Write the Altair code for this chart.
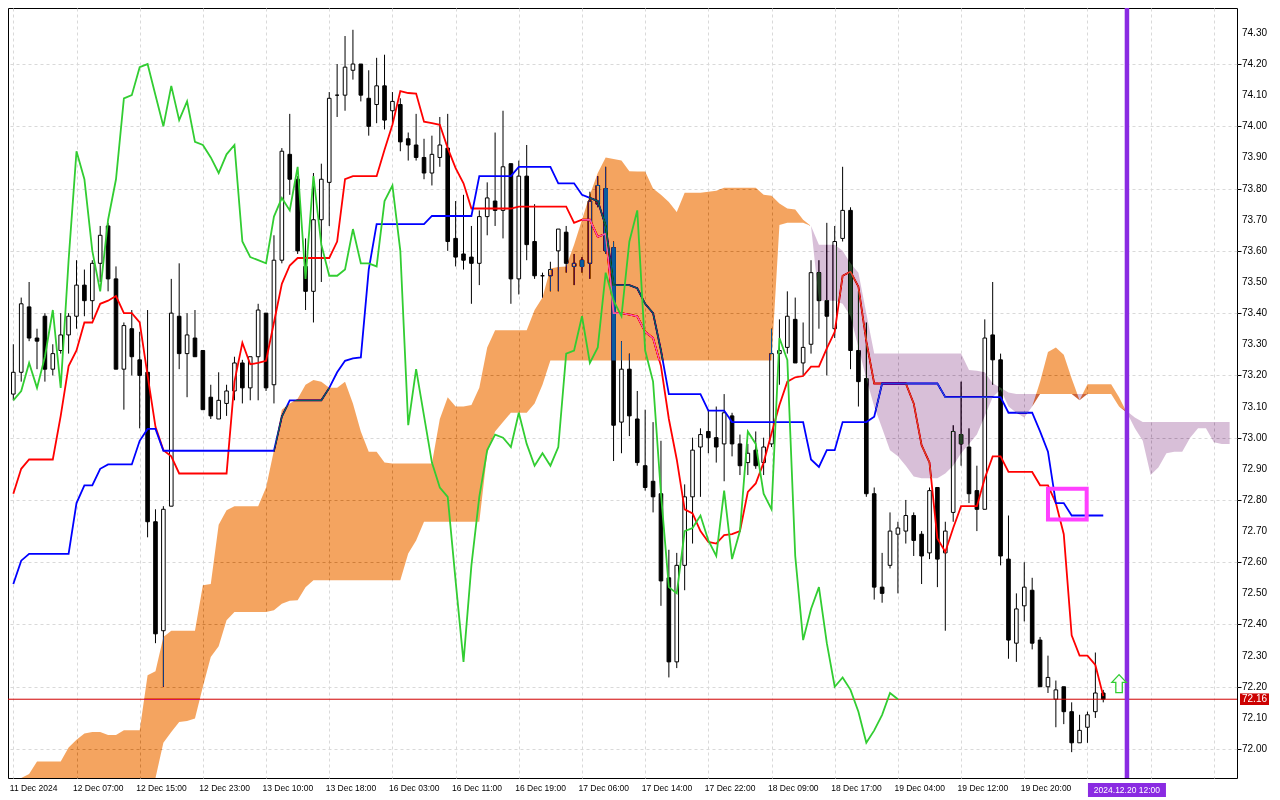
import json
import altair as alt
import pandas as pd

# ---------------- data ----------------
time_labels = ["11 Dec 2024", "12 Dec 07:00", "12 Dec 15:00", "12 Dec 23:00", "13 Dec 10:00",
               "13 Dec 18:00", "16 Dec 03:00", "16 Dec 11:00", "16 Dec 19:00", "17 Dec 06:00",
               "17 Dec 14:00", "17 Dec 22:00", "18 Dec 09:00", "18 Dec 17:00", "19 Dec 04:00",
               "19 Dec 12:00", "19 Dec 20:00"]
price_ticks = [72.0, 72.1, 72.2, 72.3, 72.4, 72.5, 72.6, 72.7, 72.8, 72.9, 73.0, 73.1,
               73.2, 73.3, 73.4, 73.5, 73.6, 73.7, 73.8, 73.9, 74.0, 74.1, 74.2, 74.3]

opens = [73.14, 73.21, 73.42, 73.32, 73.39, 73.22, 73.28, 73.33, 73.39, 73.49,
         73.44, 73.56, 73.68, 73.51, 73.22, 73.35, 73.25, 73.21, 72.73, 72.38,
         72.78, 73.39, 73.27, 73.32, 73.28, 73.13, 73.06, 73.11, 73.15, 73.24,
         73.16, 73.26, 73.40, 73.17, 73.57, 73.91, 73.83, 73.55, 73.47, 73.70,
         73.82, 74.10, 74.10, 74.18, 74.20, 74.09, 74.07, 74.13, 74.05, 74.07,
         73.96, 73.94, 73.90, 73.85, 73.90, 73.93, 73.64, 73.59, 73.58, 73.56,
         73.71, 73.76, 73.73, 73.88, 73.51, 73.84, 73.63, 73.52, 73.52, 73.60,
         73.66, 73.55, 73.57, 73.56, 73.75, 73.80, 73.61, 73.05, 73.22, 73.06,
         72.91, 72.86, 72.82, 72.55, 72.28, 72.59, 72.81, 72.97, 73.02, 73.00,
         72.98, 73.07, 72.98, 72.92, 72.96, 72.92, 72.98, 73.27, 73.29, 73.38,
         73.24, 73.30, 73.53, 73.44, 73.35, 73.64, 73.73, 73.28, 73.19, 72.82,
         72.52, 72.59, 72.69, 72.70, 72.75, 72.69, 72.63, 72.84, 72.63, 72.76,
         73.01, 72.97, 72.83, 72.77, 73.33, 73.25, 72.61, 72.34, 72.46, 72.51,
         72.35, 72.20, 72.16, 72.20, 72.12, 72.02, 72.07, 72.12, 72.18]
highs = [73.30, 73.45, 73.50, 73.35, 73.40, 73.30, 73.40, 73.40, 73.57, 73.54,
         73.57, 73.68, 73.69, 73.55, 73.37, 73.41, 73.34, 73.41, 72.77, 72.78,
         73.51, 73.56, 73.40, 73.41, 73.28, 73.17, 73.21, 73.17, 73.26, 73.25,
         73.26, 73.43, 73.40, 73.65, 73.93, 74.04, 73.84, 73.64, 73.85, 73.88,
         74.11, 74.20, 74.29, 74.31, 74.20, 74.18, 74.22, 74.23, 74.11, 74.09,
         73.98, 74.04, 73.96, 73.97, 74.03, 74.04, 73.76, 73.78, 73.68, 73.73,
         73.82, 73.98, 74.05, 73.88, 73.89, 73.94, 73.75, 73.53, 73.565, 73.67,
         73.68, 73.59, 73.58, 73.79, 73.84, 73.87, 73.63, 73.31, 73.27, 73.15,
         73.09, 73.05, 72.99, 72.64, 72.63, 72.85, 73.00, 73.03, 73.09, 73.10,
         73.14, 73.08, 73.01, 72.98, 73.02, 73.00, 73.35, 73.38, 73.47, 73.45,
         73.37, 73.57, 73.57, 73.69, 73.68, 73.87, 73.74, 73.47, 73.37, 72.84,
         72.63, 72.76, 72.73, 72.80, 72.76, 72.70, 72.84, 72.84, 72.73, 73.04,
         73.18, 73.03, 72.91, 73.38, 73.50, 73.27, 72.75, 72.50, 72.60, 72.55,
         72.36, 72.30, 72.22, 72.20, 72.15, 72.11, 72.12, 72.31, 72.19]
lows = [73.12, 73.18, 73.31, 73.22, 73.18, 73.20, 73.27, 73.27, 73.35, 73.39,
        73.38, 73.50, 73.47, 73.22, 73.09, 73.20, 73.03, 72.68, 72.34, 72.20,
        72.78, 73.22, 73.13, 73.26, 73.09, 73.06, 73.06, 73.07, 73.12, 73.11,
        73.12, 73.12, 73.15, 73.11, 73.56, 73.78, 73.59, 73.41, 73.37, 73.50,
        73.68, 74.03, 74.05, 74.15, 74.08, 73.97, 74.01, 73.99, 74.01, 73.92,
        73.89, 73.89, 73.83, 73.81, 73.87, 73.60, 73.55, 73.54, 73.43, 73.49,
        73.65, 73.68, 73.64, 73.43, 73.46, 73.57, 73.51, 73.45, 73.47, 73.47,
        73.53, 73.49, 73.53, 73.51, 73.74, 73.59, 72.925, 72.95, 73.005, 72.91,
        72.83, 72.76, 72.46, 72.23, 72.26, 72.51, 72.66, 72.81, 72.95, 72.92,
        72.86, 72.94, 72.88, 72.88, 72.90, 72.88, 72.97, 73.17, 73.27, 73.24,
        73.20, 73.27, 73.35, 73.20, 73.32, 73.63, 73.22, 73.10, 72.81, 72.48,
        72.47, 72.58, 72.50, 72.66, 72.62, 72.53, 72.61, 72.52, 72.38, 72.73,
        72.91, 72.79, 72.70, 72.77, 73.17, 72.59, 72.29, 72.28, 72.41, 72.32,
        72.20, 72.18, 72.07, 72.08, 71.99, 72.02, 72.02, 72.10, 72.15]
closes = [73.21, 73.43, 73.32, 73.31, 73.22, 73.27, 73.33, 73.39, 73.49, 73.44,
          73.56, 73.65, 73.51, 73.22, 73.36, 73.26, 73.20, 72.73, 72.37, 72.77,
          73.40, 73.27, 73.33, 73.26, 73.09, 73.07, 73.12, 73.15, 73.24, 73.16,
          73.26, 73.41, 73.16, 73.57, 73.92, 73.83, 73.60, 73.47, 73.70, 73.83,
          74.09, 74.10, 74.19, 74.20, 74.10, 74.00, 74.13, 74.02, 74.08, 73.95,
          73.94, 73.90, 73.85, 73.91, 73.94, 73.63, 73.58, 73.57, 73.56, 73.71,
          73.77, 73.73, 73.87, 73.51, 73.84, 73.62, 73.52, 73.52, 73.54, 73.67,
          73.56, 73.56, 73.55, 73.76, 73.81, 73.60, 73.04, 73.22, 73.07, 72.92,
          72.84, 72.81, 72.54, 72.28, 72.59, 72.81, 72.96, 73.01, 73.00, 72.97,
          73.08, 72.98, 72.91, 72.95, 72.91, 72.97, 73.27, 73.28, 73.39, 73.24,
          73.29, 73.53, 73.44, 73.39, 73.63, 73.73, 73.28, 73.18, 72.82, 72.52,
          72.50, 72.70, 72.71, 72.75, 72.67, 72.62, 72.83, 72.61, 72.70, 73.02,
          72.98, 72.82, 72.77, 73.32, 73.25, 72.62, 72.35, 72.45, 72.52, 72.34,
          72.20, 72.23, 72.19, 72.12, 72.02, 72.06, 72.11, 72.18, 72.16]

tenkan = [72.82, 72.90, 72.93, 72.93, 72.93, 72.93, 73.07, 73.23, 73.28, 73.37,
          73.37, 73.43, 73.44, 73.455, 73.40, 73.40, 73.37, 73.20, 73.035, 72.96,
          72.94, 72.885, 72.885, 72.885, 72.885, 72.885, 72.885, 72.885, 73.18, 73.305,
          73.236, 73.24, 73.247, 73.37, 73.494, 73.553, 73.577, 73.577, 73.577, 73.577,
          73.577, 73.63, 73.83, 73.84, 73.84, 73.84, 73.84, 73.925, 74.005, 74.113,
          74.107, 74.105, 74.015, 74.01, 74.005, 73.93, 73.866, 73.817, 73.736, 73.736,
          73.736, 73.736, 73.736, 73.736, 73.742, 73.742, 73.742, 73.742, 73.742, 73.742,
          73.742, 73.69, 73.70, 73.70, 73.645, 73.655, 73.40, 73.40, 73.395, 73.39,
          73.34, 73.32, 73.23, 73.06, 72.93, 72.77, 72.757, 72.70, 72.665, 72.66,
          72.687, 72.69, 72.70, 72.826, 72.853, 72.92, 73.014, 73.105, 73.18, 73.194,
          73.198, 73.228, 73.228, 73.287, 73.34, 73.52, 73.533, 73.485, 73.31, 73.174,
          73.174, 73.174, 73.174, 73.174, 73.11, 72.976, 72.92, 72.676, 72.633, 72.71,
          72.78, 72.78, 72.78, 72.87, 72.94, 72.94, 72.89, 72.89, 72.89, 72.89,
          72.847, 72.847, 72.79, 72.69, 72.365, 72.30, 72.30, 72.27, 72.17]
kijun = [72.53, 72.605, 72.627, 72.627, 72.627, 72.627, 72.627, 72.627, 72.79, 72.847,
         72.847, 72.90, 72.914, 72.914, 72.914, 72.914, 72.99, 73.028, 73.028, 72.958,
         72.958, 72.958, 72.958, 72.958, 72.958, 72.958, 72.958, 72.958, 72.958, 72.958,
         72.958, 72.958, 72.958, 72.958, 73.068, 73.12, 73.12, 73.12, 73.12, 73.12,
         73.16, 73.21, 73.247, 73.255, 73.258, 73.54, 73.686, 73.686, 73.686, 73.686,
         73.686, 73.686, 73.686, 73.712, 73.712, 73.712, 73.712, 73.712, 73.712, 73.84,
         73.84, 73.84, 73.84, 73.84, 73.87, 73.87, 73.87, 73.87, 73.87, 73.817,
         73.817, 73.817, 73.78, 73.77, 73.76, 73.68, 73.49, 73.49, 73.49, 73.48,
         73.43, 73.40, 73.28, 73.14, 73.14, 73.14, 73.14, 73.14, 73.087, 73.087,
         73.087, 73.05, 73.05, 73.05, 73.05, 73.05, 73.05, 73.05, 73.05, 73.05,
         73.05, 72.93, 72.906, 72.96, 72.96, 73.05, 73.05, 73.05, 73.05, 73.067,
         73.174, 73.174, 73.174, 73.174, 73.174, 73.174, 73.174, 73.174, 73.13, 73.13,
         73.13, 73.13, 73.13, 73.13, 73.13, 73.13, 73.08, 73.08, 73.08, 73.08,
         73.02, 72.955, 72.79, 72.79, 72.75, 72.75, 72.75, 72.75, 72.75]
span_a = [71.85, 71.89, 71.92, 71.96, 71.96, 71.96, 71.96, 72.005, 72.03, 72.05,
          72.055, 72.055, 72.045, 72.045, 72.06, 72.06, 72.06, 72.237, 72.25, 72.36,
          72.38, 72.38, 72.38, 72.38, 72.526, 72.53, 72.72, 72.767, 72.78, 72.78,
          72.78, 72.78, 72.84, 72.96, 73.09, 73.11, 73.125, 73.17, 73.185, 73.18,
          73.16, 73.16, 73.18, 73.11, 73.02, 72.955, 72.955, 72.92, 72.917, 72.917,
          72.917, 72.917, 72.917, 72.917, 73.06, 73.13, 73.10, 73.10, 73.105, 73.16,
          73.29, 73.345, 73.345, 73.345, 73.345, 73.345, 73.41, 73.45, 73.543, 73.548,
          73.55, 73.62, 73.70, 73.78, 73.85, 73.90, 73.895, 73.89, 73.856, 73.855,
          73.855, 73.80, 73.78, 73.757, 73.725, 73.787, 73.787, 73.787, 73.79, 73.793,
          73.803, 73.803, 73.803, 73.803, 73.803, 73.78, 73.777, 73.752, 73.736, 73.733,
          73.70, 73.68, 73.44, 73.44, 73.44, 73.43, 73.39, 73.29, 73.19, 73.10,
          73.03, 72.96, 72.94, 72.91, 72.875, 72.87, 72.87, 72.87, 72.885, 72.91,
          72.95, 72.98, 73.01, 73.07, 73.13, 73.155, 73.10, 73.08, 73.065, 73.10,
          73.18, 73.275, 73.29, 73.266, 73.19, 73.12, 73.172, 73.172, 73.172, 73.172,
          73.13, 73.08, 73.03, 72.99, 72.88, 72.905, 72.95, 72.955, 72.955, 73.00,
          73.03, 73.03, 72.985, 72.98, 72.98]
span_b = [71.70, 71.70, 71.70, 71.70, 71.70, 71.70, 71.70, 71.70, 71.70, 71.70,
          71.70, 71.70, 71.70, 71.70, 71.70, 71.70, 71.70, 71.70, 71.80, 72.02,
          72.055, 72.087, 72.09, 72.098, 72.20, 72.296, 72.33, 72.414, 72.44, 72.44,
          72.44, 72.44, 72.44, 72.446, 72.467, 72.476, 72.478, 72.52, 72.542, 72.542,
          72.542, 72.542, 72.542, 72.542, 72.542, 72.542, 72.542, 72.542, 72.542, 72.542,
          72.628, 72.67, 72.73, 72.73, 72.73, 72.73, 72.73, 72.73, 72.73, 72.73,
          72.95, 73.02, 73.05, 73.08, 73.08, 73.08, 73.11, 73.17, 73.248, 73.248,
          73.248, 73.248, 73.248, 73.248, 73.248, 73.248, 73.248, 73.248, 73.248, 73.248,
          73.248, 73.248, 73.248, 73.248, 73.248, 73.248, 73.248, 73.248, 73.248, 73.248,
          73.248, 73.248, 73.248, 73.248, 73.248, 73.248, 73.248, 73.683, 73.69, 73.69,
          73.69, 73.68, 73.62, 73.62, 73.62, 73.60, 73.56, 73.53, 73.40, 73.27,
          73.27, 73.27, 73.27, 73.27, 73.27, 73.27, 73.27, 73.27, 73.27, 73.27,
          73.27, 73.217, 73.215, 73.21, 73.175, 73.16, 73.145, 73.14, 73.14, 73.14,
          73.14, 73.14, 73.14, 73.14, 73.14, 73.14, 73.14, 73.14, 73.14, 73.14,
          73.10, 73.085, 73.065, 73.05, 73.05, 73.05, 73.05, 73.05, 73.05, 73.05,
          73.05, 73.05, 73.05, 73.05, 73.05]

chikou_shift = 26
vline_bar = [141]
vline_label = ["2024.12.20 12:00"]
box_bars = [131.0, 135.9]
box_prices = [72.836, 72.737]
arrow_at = [140.0, 72.21]

# ---------------- frames ----------------
N = len(closes)
bars = pd.DataFrame({"k": list(range(N)), "o": opens, "h": highs, "l": lows, "c": closes,
                     "tenkan": tenkan, "kijun": kijun})
chikou = pd.DataFrame({"k": list(range(N - chikou_shift)), "v": closes[chikou_shift:]})
cloud = pd.DataFrame({"k": list(range(len(span_a))), "a": span_a, "b": span_b})
cloud["lo"] = cloud[["a", "b"]].min(axis=1)
last_price = pd.DataFrame({"p": [closes[-1]], "t": [f"{closes[-1]:.2f}"]})
vline = pd.DataFrame({"k": vline_bar, "t": vline_label})
box = pd.DataFrame({"k": [box_bars[0]], "x2": [box_bars[1]], "p": [box_prices[0]], "y2": [box_prices[1]]})
arrow = pd.DataFrame({"k": [arrow_at[0]], "p": [arrow_at[1]]})
ticks_df = pd.DataFrame({"p": price_ticks, "t": [f"{v:.2f}" for v in price_ticks]})
axis_frame = pd.DataFrame({"k": [0.0], "p": [73.0]})

W, H = 1229, 770
FONT = "Liberation Sans"
GRID = "#d9d9d9"
xs = alt.Scale(domain=[-0.04, 154.3], nice=False, zero=False)
ys = alt.Scale(domain=[71.907, 74.38], nice=False, zero=False, clamp=True)

label_expr = ("(datum.value % 8 == 0 && datum.value < " + str(8 * len(time_labels)) + ") ? "
              + json.dumps(time_labels) + "[datum.value / 8] : ''")
xaxis = alt.Axis(values=list(range(0, 156, 4)), labelExpr=label_expr, labelAlign="left",
                 labelBaseline="top", labelPadding=5, labelOffset=-4, labelFontSize=8.5,
                 labelFont=FONT, labelColor="black", labelOverlap=False, labelFlush=False,
                 labelBound=False, ticks=False, domain=False, grid=True, gridColor=GRID,
                 gridDash=[3, 3], gridWidth=1, title=None)
yaxis = alt.Axis(orient="right", values=price_ticks, labels=False, tickColor="black",
                 tickSize=4, domain=False, grid=True, gridColor=GRID,
                 gridDash=[3, 3], gridWidth=1, title=None)


def X(f):
    return alt.X(f, type="quantitative", scale=xs, title=None)


def Y(f):
    return alt.Y(f, type="quantitative", scale=ys, title=None)


# an invisible layer that carries both axes (grid, ticks, time labels)
axes_layer = alt.Chart(axis_frame).mark_point(opacity=0).encode(
    x=alt.X("k:Q", scale=xs, axis=xaxis),
    y=alt.Y("p:Q", scale=ys, axis=yaxis))
price_labels = alt.Chart(ticks_df).mark_text(align="left", baseline="middle", fontSize=10,
                                             font=FONT, color="black").encode(
    x=alt.value(W + 5), y=Y("p"), text="t:N")

wicks = alt.Chart(bars).mark_rule(color="black", strokeWidth=1).encode(
    x=X("k"), y=Y("l"), y2="h:Q")
bodies = alt.Chart(bars).mark_bar(size=3.6, stroke="black", strokeWidth=1).encode(
    x=X("k"), y=Y("o"), y2="c:Q",
    fill=alt.condition("datum.o > datum.c", alt.value("black"), alt.value("white")))
tenkan_line = alt.Chart(bars).mark_line(color="#ff0000", strokeWidth=1.8).encode(x=X("k"), y=Y("tenkan"))
kijun_line = alt.Chart(bars).mark_line(color="#0000ff", strokeWidth=1.8).encode(x=X("k"), y=Y("kijun"))
price_line = alt.Chart(last_price).mark_rule(color="#d00000", strokeWidth=1).encode(y=Y("p"))

# cloud drawn with a difference blend so lines beneath it change colour as in the original
cloud_up = alt.Chart(cloud).mark_area(color="#0b5b9f", blend="difference", opacity=1).encode(
    x=X("k"), y=Y("a"), y2="lo:Q")
cloud_down = alt.Chart(cloud).mark_area(color="#274027", blend="difference", opacity=1).encode(
    x=X("k"), y=Y("b"), y2="lo:Q")

chikou_line = alt.Chart(chikou).mark_line(color="#32cd32", strokeWidth=1.8).encode(x=X("k"), y=Y("v"))
vline_rule = alt.Chart(vline).mark_rule(color="#8a2be2", strokeWidth=4.5).encode(x=X("k"))
box_rect = alt.Chart(box).mark_rect(fillOpacity=0, stroke="#ff40ff", strokeWidth=4).encode(
    x=X("k"), x2="x2:Q", y=Y("p"), y2="y2:Q")
arrow_pt = alt.Chart(arrow).mark_point(
    shape="M0,-1L0.8,-0.15L0.36,-0.15L0.36,1L-0.36,1L-0.36,-0.15L-0.8,-0.15Z",
    size=324, filled=True, fill="white", stroke="#32cd32", strokeWidth=1.3, opacity=1).encode(
    x=X("k"), y=Y("p"))

tag_bg = alt.Chart(last_price).mark_point(shape="M-1,-0.4H1V0.4H-1Z", size=841, filled=True,
                                          color="#cc0000", opacity=1).encode(
    x=alt.value(W + 17.5), y=Y("p"))
tag_txt = alt.Chart(last_price).mark_text(color="white", fontSize=10, font=FONT,
                                          align="center", baseline="middle").encode(
    x=alt.value(W + 17.5), y=Y("p"), text="t:N")
vl_bg = alt.Chart(vline).mark_point(shape="M-1,-0.18H1V0.18H-1Z", size=6084, filled=True,
                                    color="#8a2be2", opacity=1).encode(
    x=X("k"), y=alt.value(H + 12))
vl_txt = alt.Chart(vline).mark_text(color="white", fontSize=8.5, font=FONT, align="center",
                                    baseline="middle").encode(
    x=X("k"), y=alt.value(H + 12), text="t:N")

chart = alt.layer(
    axes_layer, wicks, bodies, tenkan_line, kijun_line, price_line,
    cloud_up, cloud_down,
    chikou_line, vline_rule, box_rect, arrow_pt, price_labels, tag_bg, tag_txt, vl_bg, vl_txt
).properties(
    width=W, height=H,
    autosize=alt.AutoSizeParams(type="none"),
    padding={"left": 0, "top": 0, "right": 35, "bottom": 22},
    background="white",
).configure_view(stroke="black", strokeWidth=1, fill="white")

chart.save("out.html", embed_options={"renderer": "svg", "actions": False})
